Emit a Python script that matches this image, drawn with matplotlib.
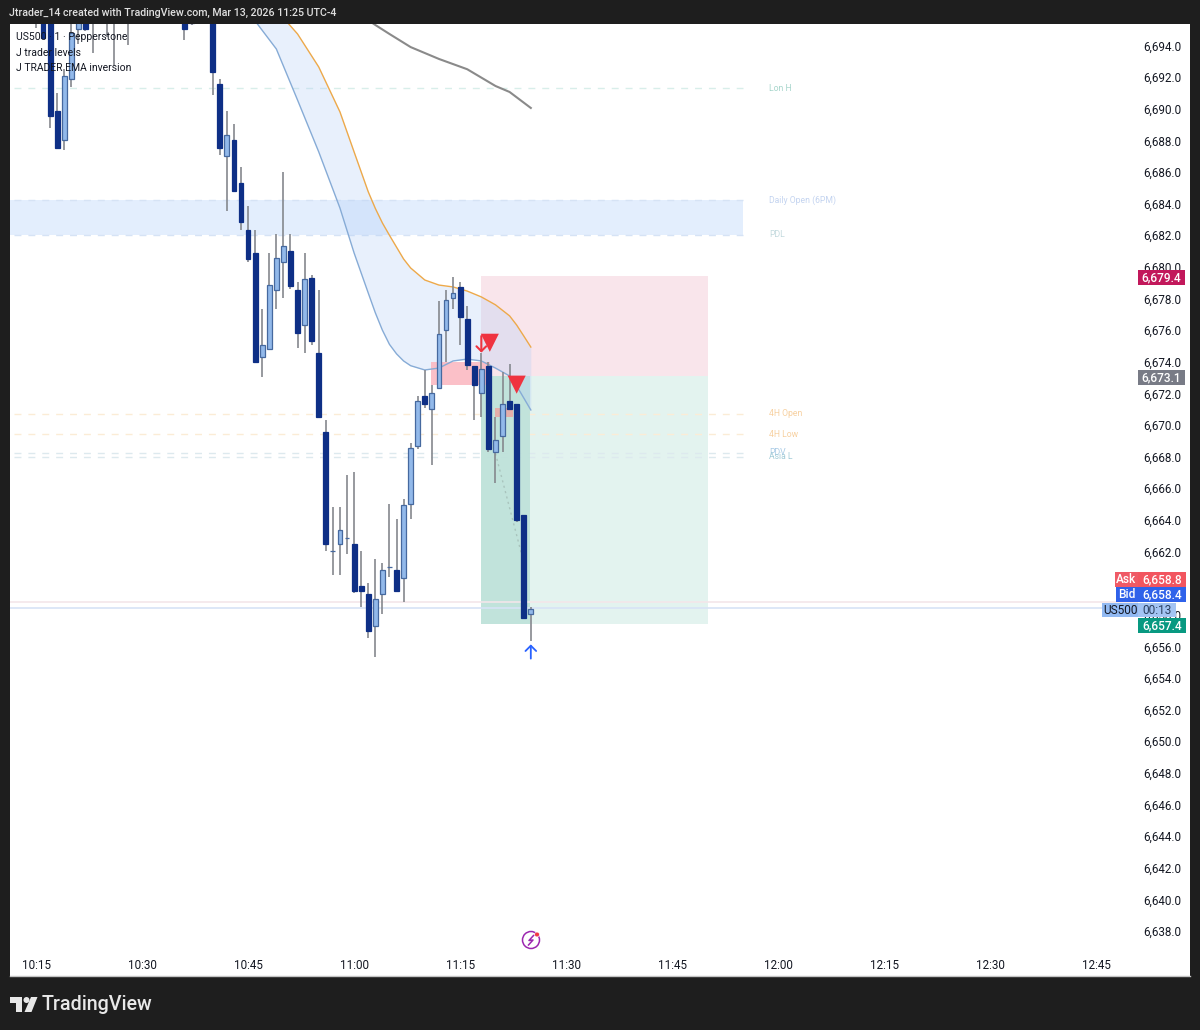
import matplotlib
matplotlib.use('Agg')
import matplotlib.pyplot as plt
from matplotlib.patches import Rectangle, Circle, Polygon

plt.rcParams['font.family'] = ['Roboto', 'DejaVu Sans']

# minutes after 10:15, one candle per minute
minutes = [0, 1, 2, 3, 4, 5, 6, 7, 8, 10, 11, 13, 21, 22, 25, 26, 27, 28, 29, 30,
           31, 32, 33, 34, 35, 36, 37, 38, 39, 40, 41, 42, 43, 44, 45, 46, 47, 48, 49, 50,
           51, 52, 53, 54, 55, 56, 57, 58, 59, 60, 61, 62, 63, 64, 65, 66, 67, 68, 69, 70]
opens = [6696.5, 6697, 6697, 6689.86, 6688.03, 6691.88, 6695.05, 6696, 6696.5, 6696.5, 6696.5, 6696.5, 6696.5, 6696, 6697, 6691.57, 6687.01, 6688.03, 6685.3, 6682.33,
         6680.88, 6674.3, 6674.8, 6678.54, 6680.31, 6681.0, 6678.54, 6676.32, 6679.3, 6674.55, 6669.56, 6662.03, 6662.47, 6662.85, 6662.47, 6659.82, 6659.31, 6657.29, 6659.31, 6661.02,
         6660.83, 6660.32, 6665.0, 6668.67, 6671.83, 6671.01, 6672.34, 6676.0, 6678.03, 6678.73, 6676.7, 6673.73, 6672.02, 6673.73, 6668.29, 6669.3, 6671.52, 6671.33, 6664.31, 6658.04]
closes = [6696, 6694.5, 6689.54, 6687.52, 6692.07, 6694.79, 6696.5, 6695.05, 6696, 6696, 6696, 6696, 6695.05, 6695.4, 6692.33, 6687.52, 6688.34, 6684.8, 6682.84, 6680.5,
          6674.0, 6675.06, 6678.85, 6680.56, 6681.32, 6678.79, 6675.82, 6679.23, 6675.31, 6670.5, 6662.47, 6662.03, 6663.36, 6662.85, 6659.5, 6659.5, 6656.97, 6659.0, 6660.83, 6661.02,
          6659.5, 6664.94, 6668.54, 6671.52, 6671.33, 6672.02, 6675.75, 6677.9, 6678.35, 6676.83, 6673.79, 6672.53, 6673.54, 6668.48, 6669.05, 6671.33, 6671.01, 6664.0, 6657.79, 6658.36]
highs = [6697, 6698, 6698, 6691.0, 6692.5, 6696, 6697, 6697, 6697, 6697, 6697, 6697, 6697, 6697, 6698, 6691.88, 6689.86, 6689.04, 6686.32, 6683.85,
         6682.33, 6677.34, 6680.88, 6682.08, 6686.0, 6682.08, 6679.04, 6680.88, 6679.5, 6678.54, 6670.32, 6664.81, 6664.81, 6666.84, 6667.03, 6662.03, 6660.0, 6661.52, 6661.27, 6665.0,
         6664.05, 6665.32, 6668.86, 6671.83, 6673.48, 6672.53, 6677.84, 6678.54, 6679.36, 6679.04, 6677.53, 6673.73, 6674.55, 6674.0, 6670.5, 6673.35, 6673.86, 6671.33, 6664.31, 6658.49]
lows = [6695.1, 6694.5, 6688.78, 6687.5, 6687.39, 6691.38, 6694.1, 6694.9, 6693.5, 6694.54, 6692.77, 6694.03, 6694.35, 6695.3, 6690.87, 6687.08, 6683.53, 6684.8, 6682.33, 6680.3,
        6674.0, 6673.03, 6674.8, 6677.34, 6678.03, 6678.6, 6674.87, 6674.55, 6675.06, 6670.5, 6662.03, 6660.51, 6660.51, 6661.84, 6659.37, 6658.49, 6656.53, 6655.32, 6658.04, 6660.39,
        6659.5, 6658.8, 6664.05, 6668.48, 6671.07, 6667.47, 6672.34, 6674.0, 6677.34, 6675.06, 6673.48, 6670.32, 6670.5, 6668.29, 6666.33, 6668.29, 6671.01, 6663.87, 6657.79, 6656.34]

# EMA cloud
ema_minutes = [31, 34, 37, 40, 43, 45, 47, 48, 49, 50, 51, 52, 53, 55, 57, 59, 61, 63, 65, 67, 68, 69, 70]
ema_upper = [6697.83, 6696.25, 6694.73, 6692.64, 6689.8, 6687.27, 6684.75, 6683.7, 6682.78, 6682.0, 6681.25, 6680.5, 6679.93,
             6679.17, 6678.85, 6678.73, 6678.47, 6678.1, 6677.6, 6676.9, 6676.32, 6675.63, 6674.93]
ema_lower = [6695.55, 6693.78, 6690.55, 6687.27, 6683.72, 6680.88, 6678.35, 6677.1, 6676.0, 6675.1, 6674.5, 6674.05, 6673.75,
             6673.48, 6673.6, 6674.05, 6674.17, 6674.05, 6673.6, 6673.1, 6672.47, 6671.71, 6670.95]
slow_minutes = [47, 48, 50, 53, 57, 61, 65, 67, 70]
slow_ema = [6695.6, 6695.3, 6694.73, 6693.9, 6693.15, 6692.5, 6691.44, 6691.06, 6690.05]

# levels
zone_top, zone_bottom = 6684.23, 6682.02
level_names = ['Lon H', '4H Open', '4H Low', 'PDV', 'Asia L']
level_prices = [6691.3, 6670.7, 6669.43, 6668.25, 6668.0]
level_colors = ['#d8eeea', '#fbecd6', '#fbecd6', '#dde9ee', '#dde9ee']
label_colors = ['#a8d6cc', '#f7d0a0', '#f7d0a0', '#a9cbe6', '#a3ccd8']

# long position tool
stop, entry, target = 6679.4, 6673.1, 6657.4
ask, bid = 6658.8, 6658.4

time_ticks = [0, 15, 30, 45, 60, 75, 90, 105, 120, 135, 150]
time_labels = ['10:15', '10:30', '10:45', '11:00', '11:15', '11:30', '11:45', '12:00', '12:15', '12:30', '12:45']
price_ticks = list(range(6638, 6696, 2))

fig = plt.figure(figsize=(12, 10.3), dpi=100, facecolor='#1e1e1e')

# pixel overlay for the frame, price tags and logo
back = fig.add_axes([0, 0, 1, 1], zorder=0)
back.set_xlim(0, 1200)
back.set_ylim(1030, 0)
back.axis('off')
back.add_patch(Rectangle((10, 24), 1180, 952, fc='white', ec='none'))
back.plot([10, 1190], [976, 976], color='#c4c4c4', lw=1)

ax = fig.add_axes([10 / 1200, (1030 - 952) / 1030, 1128 / 1200, 928 / 1030], zorder=1)
ax.patch.set_alpha(0)
ax.set_xlim(-3.68, 155.9)
ax.set_ylim(6636.67, 6695.36)
for s in ax.spines.values():
    s.set_visible(False)

# zones
ax.axhspan(zone_bottom, zone_top, xmin=0, xmax=733 / 1128, color='#e3eefd', lw=0, zorder=1)
ax.hlines([zone_top, zone_bottom], -3.1, 100, color='#d6e3f5', lw=1, linestyles=(0, (5, 5)), zorder=1.1)
ax.hlines(level_prices, -3.1, 100, colors=level_colors, lw=1, linestyles=(0, (5, 5)), zorder=1.1)

# position tool
ax.fill_between([63, 95], entry, stop, color='#f9e5eb', lw=0, zorder=1)
ax.fill_between([63, 95], target, entry, color='#e3f3ef', lw=0, zorder=1)
ax.fill_between([63, 69.9], target, entry, color='#b9e0d7', alpha=0.8, lw=0, zorder=1.2)

# cloud and EMAs
ax.fill_between(ema_minutes, ema_lower, ema_upper, color='#b5cff7', alpha=0.31, lw=0, zorder=1.3)
ax.plot(ema_minutes, ema_upper, color='#eda94a', lw=1.0, zorder=1.6)
ax.plot(ema_minutes, ema_lower, color='#86abd6', lw=1.0, zorder=1.6)
ax.plot(slow_minutes, slow_ema, color='#8a8a8a', lw=1.5, zorder=1.6)

# pink zones
ax.fill_between([55.9, 64.2], 6672.53, 6674.0, color='#fbb9c2', alpha=0.9, lw=0, zorder=1.4)
ax.fill_between([65, 67.5], 6670.5, 6671.07, color='#eaa9a4', alpha=0.9, lw=0, zorder=1.4)

# trade line
ax.plot([65, 69], [6668.2, 6661.3], color='#a9c4bd', lw=1, ls=(0, (1.5, 2.5)), zorder=1.5)

# bid and ask
ax.axhline(ask, color='#f3e6ea', lw=1.2, zorder=1.5)
ax.axhline(bid, color='#d7e3f6', lw=1.2, zorder=1.5)

# candles
body_colors = ['#0e2f86' if c < o else '#92b9ea' for o, c in zip(opens, closes)]
edge_colors = ['#0e2f86' if c < o else '#46699f' for o, c in zip(opens, closes)]
ax.vlines(minutes, lows, highs, color='#85888e', lw=1.2, zorder=3)
ax.bar(minutes, [c - o for o, c in zip(opens, closes)], bottom=opens, width=0.68,
       color=body_colors, edgecolor=edge_colors, lw=0.9, zorder=3.2)

# signals
ax.scatter([64.2, 68], [6675.2, 6672.55], marker='v', s=[170, 170], color='#ef3340', lw=0, zorder=4)
ax.annotate('', xy=(63, 6674.4), xytext=(63, 6675.8),
            arrowprops=dict(arrowstyle='->,head_width=0.35,head_length=0.35', color='#ef3340', lw=1.5, mutation_scale=10), zorder=4)
ax.annotate('', xy=(70, 6656.3), xytext=(70, 6655.05),
            arrowprops=dict(arrowstyle='->,head_width=0.35,head_length=0.35', color='#2962ff', lw=1.3, mutation_scale=11), zorder=4)

# level labels
ax.text(103.7, 6684.23, 'Daily Open (6PM)', color='#c4d4f0', fontsize=6.2, va='center')
ax.text(103.7, 6682.02, 'PDL', color='#c4dade', fontsize=6.2, va='center')
for name, price, col in zip(level_names, level_prices, label_colors):
    ax.text(103.7, price, name, color=col, fontsize=6.2, va='center')

ax.set_xticks(time_ticks, time_labels)
ax.set_yticks(price_ticks, [f'{p:,.1f}' for p in price_ticks])
ax.yaxis.tick_right()
ax.tick_params(axis='x', length=0, pad=5, labelsize=8.4, labelcolor='#131722')
ax.tick_params(axis='y', length=0, pad=4, labelsize=8.4, labelcolor='#131722')

# overlay
top = fig.add_axes([0, 0, 1, 1], zorder=2)
top.set_xlim(0, 1200)
top.set_ylim(1030, 0)
top.axis('off')
top.patch.set_alpha(0)

top.text(9, 13, 'Jtrader_14 created with TradingView.com, Mar 13, 2026 11:25 UTC-4',
         color='#e0e0e0', fontsize=7.7, va='center', fontweight='medium')
top.text(16, 37, 'US500 · 1 · Pepperstone', color='#131722', fontsize=7.5, va='center')
top.text(16, 53, 'J trader levels', color='#131722', fontsize=7.5, va='center')
top.text(16, 68, 'J TRADER EMA inversion', color='#131722', fontsize=7.5, va='center')


def tag(x0, x1, y0, y1, color, text, text_color='white', weight='medium'):
    top.add_patch(Rectangle((x0, y0), x1 - x0, y1 - y0, fc=color, ec='none'))
    top.text((x0 + x1) / 2, (y0 + y1) / 2, text, color=text_color, fontsize=8.6,
             ha='center', va='center', fontweight=weight)


tag(1138, 1185, 270, 285, '#c2185b', f'{stop:,.1f}')
tag(1138, 1185, 370, 385, '#787b86', f'{entry:,.1f}')
tag(1115, 1138, 572, 587, '#ef5a66', 'Ask')
tag(1138, 1186, 572, 587, '#f2555f', f'{ask:,.1f}')
tag(1116, 1138, 587, 602, '#2f62ea', 'Bid')
tag(1138, 1186, 587, 602, '#2f62ea', f'{bid:,.1f}')
tag(1102, 1138, 603, 617, '#91b9f2', 'US500', text_color='#131722', weight='normal')
tag(1138, 1176, 603, 617, '#a3c4f3', '00:13', text_color='#2a3f5f', weight='normal')
tag(1138, 1186, 618, 633, '#089981', f'{target:,.1f}')

# bolt icon
top.add_patch(Circle((531, 940), 8.5, fc='white', ec='#9c27b0', lw=1.1))
top.plot([533.5, 529, 533, 528.5], [935.5, 940.5, 940, 945], color='#9c27b0', lw=1.1)
top.add_patch(Circle((537, 934.5), 2.4, fc='#f23645', ec='white', lw=0.4))

# TradingView logo
logo = '#e8e8e8'
top.add_patch(Polygon([(10, 997), (22, 997), (22, 1012), (16, 1012), (16, 1003), (10, 1003)], fc=logo, ec='none'))
top.add_patch(Circle((26.5, 1000), 3, fc=logo, ec='none'))
top.add_patch(Polygon([(31, 997), (37.5, 997), (31.5, 1012), (24.5, 1012)], fc=logo, ec='none'))
top.text(42, 1004, 'TradingView', color=logo, fontsize=14.2, va='center', fontweight='medium')

fig.savefig('out.png', dpi=100, facecolor=fig.get_facecolor())
